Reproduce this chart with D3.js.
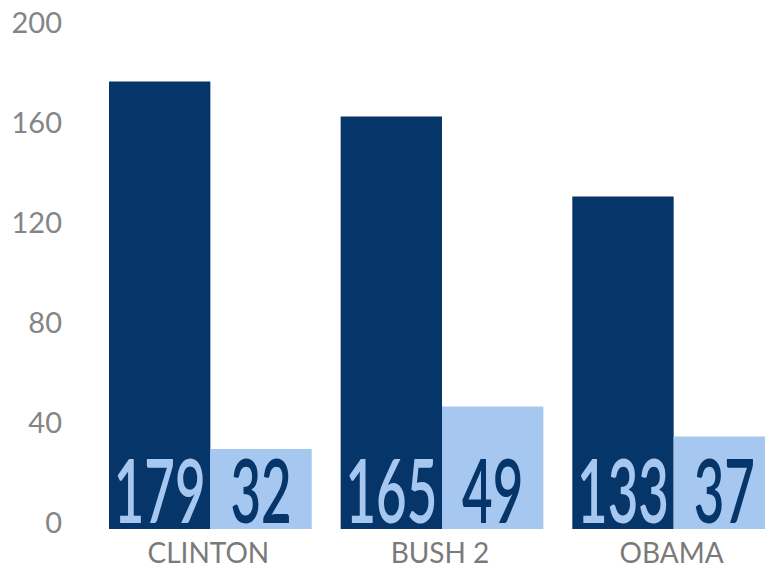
<!DOCTYPE html>
<html>
<head>
<meta charset="utf-8">
<script src="https://cdn.jsdelivr.net/npm/d3@7"></script>
<style>
  body { margin: 0; background: #fff; }
  .axis text { font-family: Lato, "Open Sans", sans-serif; font-weight: 400; font-size: 29px; fill: #858585; }
  .cat { font-family: Lato, "Open Sans", sans-serif; font-weight: 400; font-size: 28px; fill: #7a7a7a; }
  .val { font-family: Lato, "Open Sans", sans-serif; font-weight: 600; font-size: 88px; }
</style>
</head>
<body>
<svg id="chart" width="765" height="569"></svg>
<script>
  // data
  var presidents = ["CLINTON", "BUSH 2", "OBAMA"];
  var darkValues = [179, 165, 133];
  var lightValues = [32, 49, 37];
  var yTicks = [0, 40, 80, 120, 160, 200];

  var darkColor = "#06356a", lightColor = "#a6c7ef";

  var svg = d3.select("#chart");

  var x0 = d3.scaleBand().domain(presidents).range([109, 775]).paddingInner(0.125).paddingOuter(0);
  var x1 = d3.scaleBand().domain(["dark", "light"]).range([0, x0.bandwidth()]);
  var y = d3.scaleLinear().domain([0, 200]).range([529, 29]);

  // y axis: labels only, a bit above each tick
  var yAxis = d3.axisLeft(y).tickValues(yTicks).tickSize(0).tickPadding(0);
  var ag = svg.append("g").attr("class", "axis")
      .attr("transform", "translate(62,-6)")
      .call(yAxis);
  ag.select(".domain").remove();

  var rows = presidents.map(function (p, i) {
    return { name: p, bars: [{ key: "dark", value: darkValues[i] }, { key: "light", value: lightValues[i] }] };
  });

  var groups = svg.selectAll(".grp")
      .data(rows)
      .enter().append("g")
      .attr("class", "grp")
      .attr("transform", function (d) { return "translate(" + x0(d.name) + ",0)"; });

  groups.selectAll("rect")
      .data(function (d) { return d.bars; })
      .enter().append("rect")
      .attr("x", function (d) { return x1(d.key); })
      .attr("width", x1.bandwidth())
      .attr("y", function (d) { return y(d.value); })
      .attr("height", function (d) { return y(0) - y(d.value); })
      .style("fill", function (d) { return d.key == "dark" ? darkColor : lightColor; });

  groups.selectAll(".val")
      .data(function (d) { return d.bars; })
      .enter().append("text")
      .attr("class", "val")
      .attr("text-anchor", "middle")
      .attr("transform", function (d) {
        return "translate(" + (x1(d.key) + x1.bandwidth() / 2) + "," + (y(0) - 6) + ") scale(0.6,1)";
      })
      .style("fill", function (d) { return d.key == "dark" ? lightColor : darkColor; })
      .text(function (d) { return d.value; });

  groups.append("text")
      .attr("class", "cat")
      .attr("text-anchor", "middle")
      .attr("x", x0.bandwidth() / 2 - 2)
      .attr("y", 563)
      .text(function (d) { return d.name; });
</script>
</body>
</html>
